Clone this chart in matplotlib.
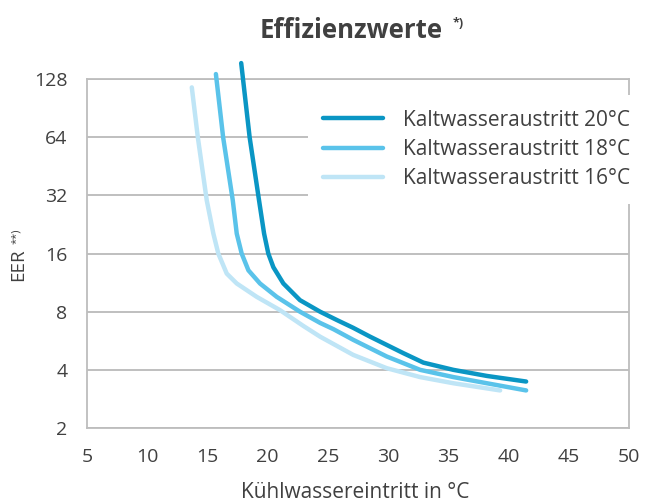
import matplotlib.pyplot as plt
from matplotlib.ticker import FixedLocator, FixedFormatter

plt.rcParams['font.family'] = ['Open Sans', 'DejaVu Sans']

# Daten
x_20 = [17.8, 18.5, 19.28, 19.70, 20.05, 20.47, 21.3, 22.68, 24.35, 25.73, 27.1, 28.5, 31.26, 32.92, 35.41, 38.19, 41.45]
y_20 = [155, 64, 30.2, 20.3, 16.0, 13.6, 11.2, 9.18, 8.0, 7.25, 6.6, 5.94, 4.88, 4.36, 4.0, 3.72, 3.48]

x_18 = [15.7, 16.3, 17.1, 17.43, 17.84, 18.4, 19.36, 20.75, 22.68, 24.35, 25.45, 27.1, 29.88, 32.65, 35.41, 38.19, 41.45]
y_18 = [136, 64, 30.2, 20.3, 16.0, 13.1, 11.2, 9.55, 8.0, 7.0, 6.5, 5.72, 4.69, 4.0, 3.67, 3.41, 3.13]

x_16 = [13.7, 14.2, 14.94, 15.49, 15.9, 16.6, 17.43, 19.09, 21.02, 22.96, 24.35, 27.1, 29.88, 32.65, 35.41, 39.29]
y_16 = [116, 64, 30.2, 20.3, 16.0, 12.6, 11.2, 9.55, 8.15, 6.75, 5.94, 4.78, 4.08, 3.67, 3.41, 3.13]

labels = ['Kaltwasseraustritt 20°C', 'Kaltwasseraustritt 18°C', 'Kaltwasseraustritt 16°C']
colors = ['#0a96c4', '#5ac3ea', '#bfe5f6']

x_ticks = [5, 10, 15, 20, 25, 30, 35, 40, 45, 50]
y_ticks = [2, 4, 8, 16, 32, 64, 128]

text_color = '#404040'
grid_color = '#b4b4b4'

fig = plt.figure(figsize=(6.54, 5.04), dpi=100)
ax = fig.add_axes([0.133, 0.1508, 0.829, 0.6922])

ax.set_yscale('log', base=2)
ax.set_xlim(5, 50)
ax.set_ylim(2, 128)

for xs, ys, lab, col in zip([x_20, x_18, x_16], [y_20, y_18, y_16], labels, colors):
    ax.plot(xs, ys, color=col, linewidth=3.2, label=lab, clip_on=False,
            solid_capstyle='round', solid_joinstyle='round', zorder=3)

ax.xaxis.set_major_locator(FixedLocator(x_ticks))
ax.set_xticklabels([str(v) for v in x_ticks])
ax.yaxis.set_major_locator(FixedLocator(y_ticks))
ax.yaxis.set_major_formatter(FixedFormatter([str(v) for v in y_ticks]))
ax.yaxis.set_minor_locator(FixedLocator([]))

ax.tick_params(axis='both', length=0, labelsize=14, colors=text_color)
ax.tick_params(axis='x', pad=14.5)
ax.tick_params(axis='y', pad=14)

ax.grid(axis='y', color=grid_color, linewidth=1.2)
ax.set_axisbelow(True)
for s in ax.spines.values():
    s.set_color('#bdbdbd')
    s.set_linewidth(1.3)

# Achsentitel
fig.text(0.5435, 6 / 504, 'Kühlwassereintritt in °C', fontsize=15, color=text_color,
         ha='center', va='baseline')
fig.text(0.0275, 1 - 265 / 504, 'EER', fontsize=13.5, color=text_color,
         rotation=90, ha='center', va='center')
fig.text(0.026, 1 - 244 / 504, '**)', fontsize=8, color=text_color,
         rotation=90, ha='center', va='bottom')

# Titel
fig.text(0.5375, 1 - 38 / 504, 'Effizienzwerte', fontsize=18.5, fontweight='bold',
         color=text_color, ha='center', va='baseline')
fig.text(453 / 654, 1 - 17 / 504, '*)', fontsize=9, fontweight='bold',
         color=text_color, ha='left', va='top')

leg = ax.legend(loc='upper left', bbox_to_anchor=(0.4077, 0.954), fontsize=15,
                frameon=True, fancybox=False, facecolor='white', edgecolor='none',
                framealpha=1, handlelength=2.9, handletextpad=0.95, labelspacing=0.4,
                borderpad=0.7, borderaxespad=0)
for t in leg.get_texts():
    t.set_color(text_color)
leg.set_zorder(5)

fig.savefig('out.png', dpi=100)
